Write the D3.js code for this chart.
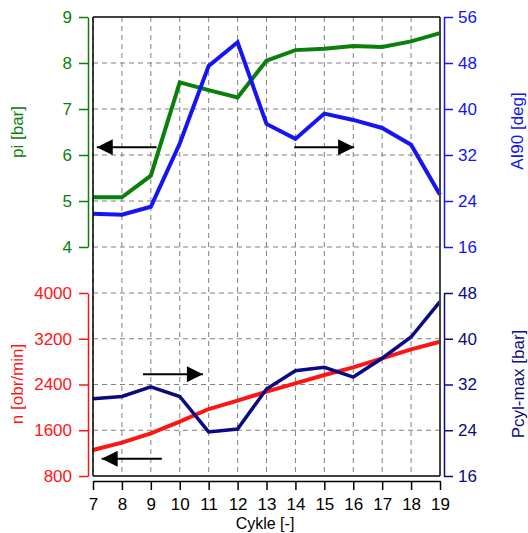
<!DOCTYPE html>
<html>
<head>
<meta charset="utf-8">
<script src="https://cdn.jsdelivr.net/npm/d3@7"></script>
<style>
  body { margin: 0; background: #fff; }
</style>
</head>
<body>
<div id="chart"></div>
<script>
(function() {
  var width = 528, height = 533;
  var font = "'Liberation Sans', Arial, sans-serif";

  // cycles on the x axis
  var cycles = [7, 8, 9, 10, 11, 12, 13, 14, 15, 16, 17, 18, 19];
  // top panel
  var pi = [5.08, 5.08, 5.55, 7.58, 7.41, 7.25, 8.05, 8.28, 8.31, 8.37, 8.35, 8.47, 8.65];
  var ai90 = [21.8, 21.6, 23.0, 34.0, 47.5, 51.6, 37.4, 34.8, 39.2, 38.1, 36.7, 33.8, 25.1];
  // bottom panel
  var rpm = [1255, 1383, 1546, 1750, 1971, 2117, 2274, 2420, 2566, 2700, 2857, 3015, 3148];
  var pcyl = [29.5, 29.9, 31.6, 29.9, 23.7, 24.2, 31.2, 34.4, 35.0, 33.3, 36.6, 40.3, 46.5];

  var piTicks = [4, 5, 6, 7, 8, 9];
  var aiTicks = [16, 24, 32, 40, 48, 56];
  var rpmTicks = [800, 1600, 2400, 3200, 4000];
  var pcylTicks = [16, 24, 32, 40, 48];

  // arrows in data units: [x from, x to, y]
  var topArrows = [[9.2, 7.13, 6.17], [13.96, 16.03, 6.17]];
  var bottomArrows = [[8.73, 10.8, 2580], [9.38, 7.3, 1100]];

  var green = "#0a800a", blue = "#1414f5", red = "#ff1414", navy = "#0a0a82";

  var xScale = d3.scaleLinear().domain([7, 19]).range([93, 440]);
  var yPi = d3.scaleLinear().domain([4, 9]).range([247, 17]);
  var yAi = d3.scaleLinear().domain([16, 56]).range([247, 17]);
  var yRpm = d3.scaleLinear().domain([800, 4000]).range([476, 293]);
  var yPcyl = d3.scaleLinear().domain([16, 48]).range([476, 293]);

  var svg = d3.select("#chart").append("svg")
    .attr("width", width)
    .attr("height", height);

  svg.append("defs").append("marker")
    .attr("id", "head")
    .attr("viewBox", "0 0 10 10")
    .attr("refX", 10).attr("refY", 5)
    .attr("markerWidth", 8.5).attr("markerHeight", 8)
    .attr("markerUnits", "strokeWidth")
    .attr("orient", "auto")
    .append("path")
      .attr("d", "M0,0L10,5L0,10Z")
      .attr("fill", "black");

  var grid = svg.append("g")
    .attr("stroke", "#808080")
    .attr("stroke-width", 1)
    .attr("stroke-dasharray", "5,4");

  grid.selectAll(".vgrid")
    .data(cycles)
    .enter().append("line")
      .attr("x1", function(d) { return xScale(d); })
      .attr("x2", function(d) { return xScale(d); })
      .attr("y1", yPi(9))
      .attr("y2", yRpm(800));

  grid.selectAll(".hgrid-top")
    .data(piTicks.slice(0, 5))
    .enter().append("line")
      .attr("x1", xScale(7)).attr("x2", xScale(19))
      .attr("y1", function(d) { return yPi(d); })
      .attr("y2", function(d) { return yPi(d); });

  grid.selectAll(".hgrid-bottom")
    .data(rpmTicks.slice(1))
    .enter().append("line")
      .attr("x1", xScale(7)).attr("x2", xScale(19))
      .attr("y1", function(d) { return yRpm(d); })
      .attr("y2", function(d) { return yRpm(d); });

  function drawLine(values, yScale, color, w) {
    var line = d3.line()
      .x(function(d, i) { return xScale(cycles[i]); })
      .y(function(d) { return yScale(d); });
    svg.append("path")
      .datum(values)
      .attr("d", line)
      .attr("fill", "none")
      .attr("stroke", color)
      .attr("stroke-width", w)
      .attr("stroke-linejoin", "miter");
  }

  drawLine(pi, yPi, green, 4);
  drawLine(ai90, yAi, blue, 4);
  drawLine(rpm, yRpm, red, 4);
  drawLine(pcyl, yPcyl, navy, 3.5);

  function drawArrows(list, yScale) {
    svg.selectAll(null)
      .data(list)
      .enter().append("line")
        .attr("x1", function(d) { return xScale(d[0]); })
        .attr("x2", function(d) { return xScale(d[1]); })
        .attr("y1", function(d) { return yScale(d[2]); })
        .attr("y2", function(d) { return yScale(d[2]); })
        .attr("stroke", "black")
        .attr("stroke-width", 2)
        .attr("marker-end", "url(#head)");
  }
  drawArrows(topArrows, yPi);
  drawArrows(bottomArrows, yRpm);

  // plot box
  svg.append("line")
    .attr("x1", xScale(7)).attr("x2", xScale(7))
    .attr("y1", yPi(9)).attr("y2", yRpm(800))
    .attr("stroke", "black").attr("stroke-width", 1.5);
  svg.append("line")
    .attr("x1", xScale(19)).attr("x2", xScale(19))
    .attr("y1", yPi(9)).attr("y2", yRpm(800))
    .attr("stroke", "#444").attr("stroke-width", 2);
  svg.append("line")
    .attr("x1", xScale(7)).attr("x2", xScale(19))
    .attr("y1", yPi(9)).attr("y2", yPi(9))
    .attr("stroke", "black").attr("stroke-width", 1.5);
  svg.append("line")
    .attr("x1", xScale(7)).attr("x2", xScale(19))
    .attr("y1", yRpm(800)).attr("y2", yRpm(800))
    .attr("stroke", "black").attr("stroke-width", 1.5);

  function styleAxis(g, color) {
    g.attr("font-family", font).attr("font-size", 17);
    g.selectAll("path, line").attr("stroke", color).attr("stroke-width", 1.5);
    g.selectAll("text").attr("fill", color);
  }

  var fmt = d3.format("d");

  var piAxis = svg.append("g")
    .attr("transform", "translate(88,0)")
    .call(d3.axisLeft(yPi).tickValues(piTicks).tickFormat(fmt).tickSize(9).tickSizeOuter(0).tickPadding(7));
  styleAxis(piAxis, green);

  var aiAxis = svg.append("g")
    .attr("transform", "translate(444,0)")
    .call(d3.axisRight(yAi).tickValues(aiTicks).tickFormat(fmt).tickSize(9).tickSizeOuter(0).tickPadding(5));
  styleAxis(aiAxis, blue);

  var rpmAxis = svg.append("g")
    .attr("transform", "translate(88,0)")
    .call(d3.axisLeft(yRpm).tickValues(rpmTicks).tickFormat(fmt).tickSize(9).tickSizeOuter(0).tickPadding(7));
  styleAxis(rpmAxis, red);

  var pcylAxis = svg.append("g")
    .attr("transform", "translate(444,0)")
    .call(d3.axisRight(yPcyl).tickValues(pcylTicks).tickFormat(fmt).tickSize(9).tickSizeOuter(0).tickPadding(5));
  styleAxis(pcylAxis, navy);

  var xAxis = svg.append("g")
    .attr("transform", "translate(0,481)")
    .call(d3.axisBottom(xScale).tickValues(cycles).tickFormat(fmt).tickSize(9).tickSizeOuter(0).tickPadding(8));
  styleAxis(xAxis, "black");

  function axisTitle(text, x, y, color) {
    svg.append("text")
      .attr("transform", "translate(" + x + "," + y + ") rotate(-90)")
      .attr("text-anchor", "middle")
      .attr("dy", "0.35em")
      .attr("fill", color)
      .attr("font-family", font)
      .attr("font-size", 17)
      .text(text);
  }
  axisTitle("pi [bar]", 17, 132, green);
  axisTitle("n [obr/min]", 17, 384, red);
  axisTitle("AI90 [deg]", 517, 131, blue);
  axisTitle("Pcyl-max [bar]", 518, 384, navy);

  svg.append("text")
    .attr("x", 265).attr("y", 529)
    .attr("text-anchor", "middle")
    .attr("fill", "black")
    .attr("font-family", font)
    .attr("font-size", 16)
    .text("Cykle [-]");
})();
</script>
</body>
</html>
